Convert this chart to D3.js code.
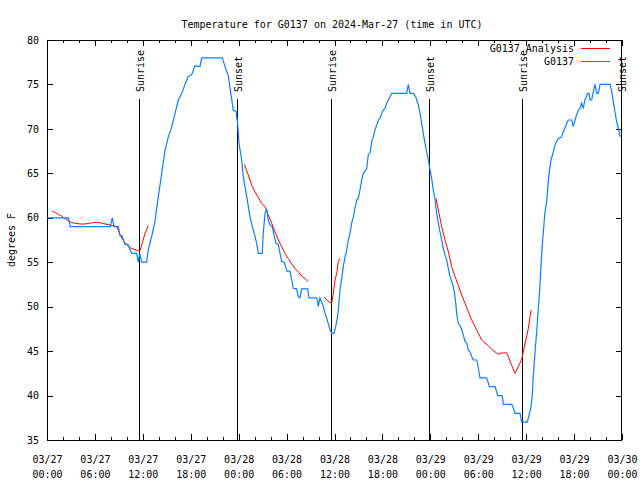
<!DOCTYPE html>
<html><head><meta charset="utf-8">
<script src="https://cdn.jsdelivr.net/npm/d3@7"></script>
<style>
body{margin:0;background:#fff}
text{font-family:"DejaVu Sans Mono","Liberation Mono",monospace;font-size:10px;fill:#000}
</style>
</head><body><svg id="c" width="640" height="480"></svg>
<script>
// hours since 2024-03-27 00:00 UTC, temperature in degrees F
const observed = [[0,60],[2.67,60],[2.92,59],[7.93,59],[8.18,60],[8.39,59],[8.93,59],[9.14,58],[9.39,58],[9.77,57],[10.14,57],[10.61,56],[11.23,56],[11.43,55],[11.61,56],[11.86,55],[12.48,55],[12.68,56.4],[13.11,57.9],[13.52,59.6],[13.94,62.4],[14.36,65],[14.78,67.6],[15.19,69.1],[15.61,70.2],[16.03,71.75],[16.44,73.25],[16.87,74],[17.28,75],[17.69,75.9],[18.12,76.1],[18.53,77.1],[19.16,77],[19.37,78],[21.95,78],[22.29,77],[22.70,76],[23.13,73.3],[23.33,72.1],[23.67,72],[23.88,70.5],[24.04,68.4],[24.38,66.5],[24.58,64.6],[24.79,63.5],[25.01,62.4],[25.21,61.25],[25.42,60.1],[25.71,59],[26.05,57.9],[26.26,57.1],[26.46,56],[26.96,56],[27.08,58.25],[27.30,60.5],[27.51,61],[27.71,59.75],[27.92,59.2],[28.21,59],[28.46,57.9],[28.68,57.1],[28.96,57],[29.18,56],[29.39,55.1],[29.72,55],[30.02,54],[30.43,54],[30.64,53],[30.84,52.07],[31.27,52],[31.47,51.1],[31.68,51],[31.89,52],[32.64,52],[32.81,51],[33.77,51],[33.90,50.6],[33.97,50],[34.18,51],[34.40,50.5],[34.60,50],[34.81,49.25],[35.02,48.7],[35.22,48.1],[35.44,47.4],[35.65,47],[35.94,47],[36.15,47.75],[36.35,48.7],[36.48,49.6],[36.69,51.9],[36.90,53.2],[37.10,54.5],[37.32,55.6],[37.53,56.4],[37.73,57.5],[37.94,58.25],[38.15,59.4],[38.36,60.1],[38.57,61.1],[38.78,62],[38.98,62.2],[39.19,63.1],[39.41,64.25],[39.61,65],[40.03,65.5],[40.23,67.1],[40.45,67.3],[40.66,68.6],[40.86,69.1],[41.07,69.9],[41.28,70.4],[41.49,71],[41.70,71.2],[41.91,71.75],[42.11,72.1],[42.32,72.3],[42.54,72.9],[42.74,73.25],[42.95,73.6],[43.16,74],[45.04,74],[45.24,75],[45.45,74],[45.87,74],[46.17,73.6],[46.49,72.7],[46.71,71.75],[46.92,70.6],[47.12,69.5],[47.33,68.4],[47.54,67.4],[47.75,66.5],[47.96,65.4],[48.17,64.4],[48.37,63.1],[48.59,62],[48.80,60.5],[49.00,59.4],[49.21,58.4],[49.42,57.5],[49.62,56.6],[49.84,55.8],[50.05,55.25],[50.25,54.3],[50.46,53.4],[50.68,52.8],[50.88,52.25],[51.00,51.7],[51.18,50.4],[51.30,49.25],[51.50,48.1],[51.72,47.9],[51.93,47.4],[52.13,46.8],[52.34,46.1],[52.55,45.9],[52.76,45.1],[52.97,44.9],[53.18,44.4],[53.38,44],[53.81,44],[54.01,43.1],[54.22,42],[55.06,42],[55.26,41.4],[55.39,41],[56.10,41],[56.31,40.4],[56.44,40],[57.01,40],[57.14,39],[58.19,39],[58.39,38.6],[58.60,38],[59.23,38],[59.44,37],[60.14,37],[60.36,37.8],[60.61,38.75],[60.77,40.1],[60.90,42.3],[61.11,44.9],[61.32,47.2],[61.52,49.8],[61.73,52.4],[61.86,54.7],[62.02,56.9],[62.15,58.4],[62.36,60.7],[62.57,61.8],[62.77,64.1],[62.90,65.2],[63.11,66.5],[63.40,67.4],[63.61,68.2],[63.82,68.6],[64.02,68.9],[64.44,69.1],[64.65,69.7],[64.86,70.1],[65.07,70.6],[65.27,71],[65.70,71],[65.90,70.25],[66.11,71],[66.32,71.6],[66.53,72.1],[66.74,72.3],[66.95,72.9],[67.15,72.3],[67.36,73.25],[67.70,74],[67.87,74],[67.99,73.25],[68.20,73.25],[68.41,74.2],[68.62,75],[68.83,74],[69.03,74],[69.25,75],[70.50,75],[70.71,74.2],[70.91,73.1],[71.12,71.9],[71.33,70.8],[71.54,70.1],[71.75,69.1]];

const analysisRun1 = [[0.66,60.75],[1.00,60.6],[1.41,60.4],[1.84,60.2],[2.25,59.9],[2.67,59.7],[3.09,59.45],[3.51,59.4],[4.13,59.3],[4.76,59.3],[5.38,59.4],[6.22,59.5],[6.85,59.4],[7.48,59.25],[7.89,59.2],[8.30,59.1],[8.73,59.0],[8.93,58.6],[9.14,58.1],[9.43,57.6],[9.77,57.2],[10.18,56.75],[10.61,56.55],[11.02,56.4],[11.43,56.3],[11.65,56.3],[11.98,57.3],[12.27,58.25],[12.68,59.1]];
const analysisRun2 = [[24.71,66.0],[25.21,64.8],[25.63,63.7],[26.05,62.9],[26.46,62.3],[26.88,61.6],[27.30,61.25],[27.71,60.3],[28.14,59.4],[28.55,58.4],[28.96,57.5],[29.39,56.75],[29.80,56],[30.22,55.4],[30.64,54.8],[31.05,54.3],[31.47,53.9],[31.89,53.45],[32.31,53.15],[32.72,52.8]];
const analysisRun3 = [[34.72,51.05],[35.22,50.6],[35.65,50.4],[35.85,51.5],[36.06,53],[36.28,53.75],[36.48,55.1],[36.65,55.4]];
const analysisRun4 = [[48.71,62.2],[49.00,60.9],[49.42,59.0],[49.84,57.5],[50.25,56.2],[50.68,54.5],[51.09,53.4],[51.50,52.4],[51.93,51.3],[52.34,50.4],[52.76,49.4],[53.18,48.5],[53.59,47.75],[54.01,47.0],[54.43,46.25],[54.85,45.9],[55.26,45.6],[55.68,45.2],[56.10,44.9],[56.51,44.65],[56.94,44.8],[57.56,44.8],[57.76,44.4],[58.19,43.4],[58.60,42.5],[59.02,43.25],[59.44,44.1],[59.85,45.8],[60.26,47.5],[60.61,49.6]];

const sunLabels = ["Sunrise","Sunset","Sunrise","Sunset","Sunrise","Sunset"];
const sunHours = [11.56,23.83,35.54,47.87,59.52,71.92];

const xTickHours = [0,6,12,18,24,30,36,42,48,54,60,66,72];
const xTickDates = ["03/27","03/27","03/27","03/27","03/28","03/28","03/28","03/28","03/29","03/29","03/29","03/29","03/30"];
const xTickTimes = ["00:00","06:00","12:00","18:00","00:00","06:00","12:00","18:00","00:00","06:00","12:00","18:00","00:00"];
const xMinorHours = d3.range(0,73,2).filter(h => h % 6 !== 0);
const yTicks = [35,40,45,50,55,60,65,70,75,80];

const seriesNames = ["G0137_Analysis","G0137"];
const seriesColors = ["#ff0000","#0a80ff"];
const titleText = "Temperature for G0137 on 2024-Mar-27 (time in UTC)";
const yLabel = "degrees F";

const L=47, R=622, T=40, B=440;
const svg = d3.select("#c");
const x = d3.scaleLinear().domain([0,72]).range([L,R]);
const y = d3.scaleLinear().domain([35,80]).range([B,T]);

// title
svg.append("text").attr("x",332).attr("y",27.5).attr("text-anchor","middle").text(titleText);

// y label
svg.append("text").attr("transform","translate(15,240) rotate(-90)").attr("text-anchor","middle").text(yLabel);

// axes
function strip(g){ g.select(".domain").remove(); g.selectAll("line").attr("stroke","#000").attr("shape-rendering","crispEdges"); }
const gB = svg.append("g").attr("transform",`translate(0,${B})`)
  .call(d3.axisBottom(x).tickValues(xTickHours).tickSize(-6).tickFormat(""));
strip(gB);
gB.selectAll(".tick").each(function(d,i){
  const t = d3.select(this).append("text").attr("text-anchor","middle").attr("fill","#000");
  t.append("tspan").attr("x",0).attr("y",23).text(xTickDates[i]);
  t.append("tspan").attr("x",0).attr("y",38).text(xTickTimes[i]);
});
strip(svg.append("g").attr("transform",`translate(0,${B})`).call(d3.axisBottom(x).tickValues(xMinorHours).tickSize(-3).tickFormat("")));
strip(svg.append("g").attr("transform",`translate(0,${T})`).call(d3.axisTop(x).tickValues(xTickHours).tickSize(-6).tickFormat("")));
strip(svg.append("g").attr("transform",`translate(0,${T})`).call(d3.axisTop(x).tickValues(xMinorHours).tickSize(-3).tickFormat("")));
const gL = svg.append("g").attr("transform",`translate(${L},0)`)
  .call(d3.axisLeft(y).tickValues(yTicks).tickSize(-6).tickPadding(8).tickFormat(d3.format("d")));
strip(gL);
gL.selectAll("text").attr("fill","#000").style("font-family",'"DejaVu Sans Mono",monospace').style("font-size","10px");
strip(svg.append("g").attr("transform",`translate(${R},0)`).call(d3.axisRight(y).tickValues(yTicks).tickSize(-6).tickFormat("")));

// frame
svg.append("rect").attr("x",L+0.5).attr("y",T+0.5).attr("width",R-L-1).attr("height",B-T)
  .attr("fill","none").attr("stroke","#000").attr("shape-rendering","crispEdges");

// sunrise / sunset
sunHours.forEach((h,i)=>{
  const px = Math.round(x(h))+0.5;
  svg.append("line").attr("x1",px).attr("x2",px).attr("y1",99).attr("y2",B)
    .attr("stroke","#000").attr("shape-rendering","crispEdges");
  svg.append("text").attr("transform",`translate(${px+4.5},92) rotate(-90)`).attr("text-anchor","start").text(sunLabels[i]);
});

// lines
const line = d3.line().x(d=>x(d[0])).y(d=>y(d[1]));
[analysisRun1,analysisRun2,analysisRun3,analysisRun4].forEach(run=>{
  svg.append("path").datum(run).attr("d",line).attr("fill","none").attr("stroke",seriesColors[0]).attr("stroke-width",1);
});
svg.append("path").datum(observed).attr("d",line).attr("fill","none").attr("stroke",seriesColors[1]).attr("stroke-width",1.2);

// legend
seriesNames.forEach((n,i)=>{
  const ly = 48.5 + i*13;
  svg.append("text").attr("x",574).attr("y",ly+3.5).attr("text-anchor","end").text(n);
  svg.append("line").attr("x1",581).attr("x2",610).attr("y1",ly).attr("y2",ly)
    .attr("stroke",seriesColors[i]).attr("shape-rendering","crispEdges");
});
</script>
</body></html>
